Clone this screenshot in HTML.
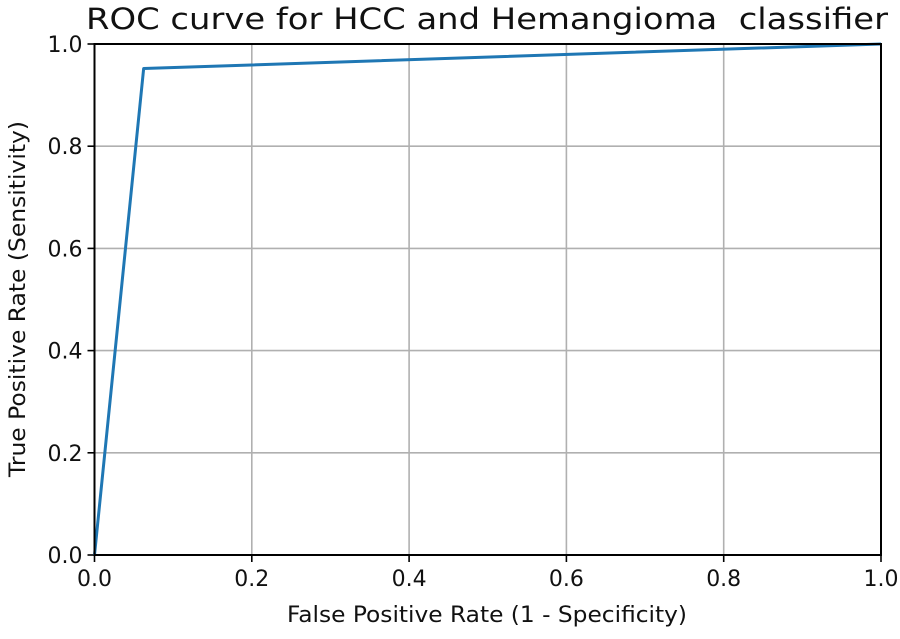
<!DOCTYPE html>
<html><head><meta charset="utf-8"><style>
body{margin:0;background:#fff;}
svg text{font-family:"DejaVu Sans","Liberation Sans",sans-serif;fill:#111;}
</style></head><body>
<svg id="chart" width="900" height="634">
<g id="grid"></g>
<g id="ticks"></g>
<g id="series"></g>
<rect x="94.5" y="44" width="786.5" height="511" fill="none" stroke="#000" stroke-width="2"/>
<text x="487" y="29" font-size="29" text-anchor="middle" textLength="802" lengthAdjust="spacingAndGlyphs">ROC curve for HCC and Hemangioma&#160; classifier</text>
<text x="487" y="622" font-size="22" text-anchor="middle" textLength="400" lengthAdjust="spacingAndGlyphs">False Positive Rate (1 - Specificity)</text>
<text x="25" y="299" font-size="22" text-anchor="middle" textLength="356" lengthAdjust="spacingAndGlyphs" transform="rotate(-90 25 299)">True Positive Rate (Sensitivity)</text>
</svg>
<script>
const xTicks=[0,0.2,0.4,0.6,0.8,1.0];
const yTicks=[0,0.2,0.4,0.6,0.8,1.0];
const fpr=[0,0.0625,1];
const tpr=[0,0.952,1];
const L=94.5,R=881,T=44,B=555;
const sx=v=>L+v*(R-L), sy=v=>B-v*(B-T);
const NS='http://www.w3.org/2000/svg';
function mk(tag,attrs,parent){const e=document.createElementNS(NS,tag);for(const k in attrs)e.setAttribute(k,attrs[k]);document.getElementById(parent).appendChild(e);return e;}
xTicks.forEach(v=>{
  const g=mk('line',{x1:sx(v),x2:sx(v),y1:T,y2:B,stroke:'#b0b0b0','stroke-width':1.6},'grid');
  
  
  const t=mk('line',{x1:sx(v),x2:sx(v),y1:B,y2:B+7,stroke:'#000','stroke-width':1.6},'ticks');
  
  
  const l=mk('text',{x:sx(v),y:B+31,'font-size':22,'text-anchor':'middle'},'ticks');
  l.textContent=v.toFixed(1);
  
  
});
yTicks.forEach(v=>{
  const g=mk('line',{x1:L,x2:R,y1:sy(v),y2:sy(v),stroke:'#b0b0b0','stroke-width':1.6},'grid');
  
  
  const t=mk('line',{x1:L-7,x2:L,y1:sy(v),y2:sy(v),stroke:'#000','stroke-width':1.6},'ticks');
  
  
  const l=mk('text',{x:L-12,y:sy(v)+8,'font-size':22,'text-anchor':'end'},'ticks');
  l.textContent=v.toFixed(1);
  
  
});
const p=mk('polyline',{points:fpr.map((v,i)=>sx(v)+','+sy(tpr[i])).join(' '),fill:'none',stroke:'#1f77b4','stroke-width':3,'stroke-linejoin':'round'},'series');


</script>
</body></html>
